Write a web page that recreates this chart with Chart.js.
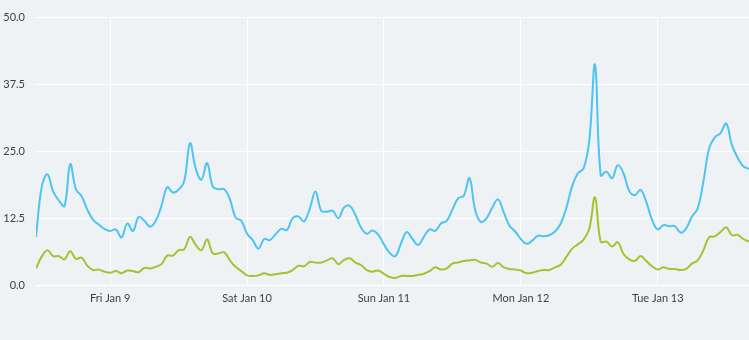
<!DOCTYPE html>
<html>
<head>
<meta charset="utf-8">
<script src="https://cdn.jsdelivr.net/npm/chart.js@4/dist/chart.umd.min.js"></script>
<style>
    html, body { margin: 0; padding: 0; background: #eef2f5; }
    #wrap { width: 749px; height: 340px; position: relative; }
</style>
</head>
<body>
<div id="wrap"><canvas id="trafficChart" width="749" height="340"></canvas></div>
<script>
// Hourly samples, first one is Thu Jan 8 11:00 (hours counted from Jan 8 00:00)
const firstHour = 11;

const blueValues = [
    9.0, 18.3, 20.7, 17.5, 15.8, 14.8, 22.6, 17.9, 16.6, 14.1, 12.2, 11.3, 10.5,
    10.1, 10.4, 8.9, 11.5, 10.1, 12.7, 12.0, 10.9, 12.0, 14.8, 18.3, 17.3,
    17.8, 19.5, 26.5, 21.8, 19.7, 22.8, 18.4, 17.9, 17.9, 16.0, 12.6, 12.0,
    9.6, 8.4, 6.8, 8.6, 8.4, 9.5, 10.5, 10.3, 12.5, 12.8, 11.9, 14.3,
    17.5, 13.9, 13.7, 13.9, 12.5, 14.5, 14.8, 13.1, 10.7, 9.6, 10.2, 9.4,
    7.6, 6.0, 5.4, 7.8, 9.9, 8.6, 7.5, 9.0, 10.4, 10.1, 11.5, 12.0,
    14.1, 16.2, 16.7, 20.0, 14.0, 11.8, 12.5, 14.5, 16.0, 13.6, 11.1, 10.0,
    8.6, 7.7, 8.3, 9.2, 9.1, 9.3, 10.0, 11.5, 14.5, 18.5, 20.9, 21.8,
    27.0, 41.2, 20.5, 21.2, 20.0, 22.4, 20.9, 17.6, 16.8, 17.8, 15.5, 12.2,
    10.4, 11.2, 11.0, 11.0, 9.8, 10.6, 12.8, 14.3, 19.3, 25.5, 27.6, 28.4,
    30.2, 26.2, 23.8, 22.2, 21.7
];

const greenValues = [
    3.1, 5.3, 6.5, 5.4, 5.4, 4.8, 6.3, 4.9, 5.1, 3.6, 2.8, 2.9, 2.5,
    2.3, 2.6, 2.2, 2.7, 2.6, 2.4, 3.2, 3.1, 3.4, 3.9, 5.5, 5.5,
    6.5, 6.7, 9.0, 7.5, 6.5, 8.5, 5.9, 5.9, 6.1, 4.6, 3.4, 2.6,
    1.8, 1.7, 1.8, 2.2, 1.9, 2.0, 2.2, 2.3, 2.8, 3.6, 3.5, 4.3,
    4.2, 4.2, 4.6, 5.0, 3.9, 4.7, 5.0, 4.2, 3.7, 2.8, 2.5, 2.7,
    2.1, 1.5, 1.3, 1.7, 1.7, 1.7, 1.9, 2.1, 2.6, 3.3, 2.9, 3.1,
    4.0, 4.2, 4.5, 4.6, 4.7, 4.2, 4.0, 3.4, 4.1, 3.3, 3.0, 2.9,
    2.7, 2.2, 2.3, 2.6, 2.8, 2.8, 3.3, 3.8, 5.3, 6.8, 7.6, 8.5,
    10.5, 16.4, 8.1, 8.1, 7.2, 8.0, 5.8, 4.8, 4.5, 5.4, 4.5, 3.5,
    2.9, 3.3, 3.0, 3.0, 2.8, 3.0, 4.0, 4.6, 6.5, 8.9, 9.1, 9.9,
    10.8, 9.3, 9.4, 8.6, 8.1
];

const dayTicks = [24, 48, 72, 96, 120];
const dayLabels = ['Fri Jan 9', 'Sat Jan 10', 'Sun Jan 11', 'Mon Jan 12', 'Tue Jan 13'];
const yTicks = [0, 12.5, 25, 37.5, 50];

const toPoints = vals => vals.map((v, i) => ({ x: firstHour + i, y: v }));

const FONT = { family: 'Lato, "Open Sans", sans-serif', size: 11 };

const ctx = document.getElementById('trafficChart').getContext('2d');
new Chart(ctx, {
    type: 'line',
    data: {
        datasets: [
            {
                label: 'Blue',
                data: toPoints(blueValues),
                borderColor: '#4dc4f1',
                borderWidth: 2,
                pointRadius: 0,
                tension: 0.4,
                fill: false
            },
            {
                label: 'Green',
                data: toPoints(greenValues),
                borderColor: '#a2c431',
                borderWidth: 2,
                pointRadius: 0,
                tension: 0.4,
                fill: false
            }
        ]
    },
    options: {
        responsive: false,
        animation: false,
        layout: { padding: { top: 17, right: 0, left: 0, bottom: 0 } },
        plugins: {
            legend: { display: false },
            tooltip: { enabled: false }
        },
        scales: {
            x: {
                type: 'linear',
                min: firstHour,
                max: firstHour + blueValues.length - 1,
                afterBuildTicks: axis => { axis.ticks = dayTicks.map(v => ({ value: v })); },
                afterFit: axis => { axis.height = 55; },
                border: { display: false },
                grid: { color: '#ffffff', lineWidth: 1, drawTicks: false },
                ticks: {
                    padding: 7,
                    color: '#3f3f3f',
                    font: FONT,
                    maxRotation: 0,
                    callback: v => dayLabels[dayTicks.indexOf(v)]
                }
            },
            y: {
                min: 0,
                max: 50,
                afterBuildTicks: axis => { axis.ticks = yTicks.map(v => ({ value: v })); },
                afterFit: axis => { axis.width = 36; },
                border: { display: false },
                grid: { color: '#ffffff', lineWidth: 1, drawTicks: false },
                ticks: {
                    padding: 11,
                    color: '#3f3f3f',
                    font: FONT,
                    callback: v => v.toFixed(1)
                }
            }
        }
    }
});
</script>
</body>
</html>
